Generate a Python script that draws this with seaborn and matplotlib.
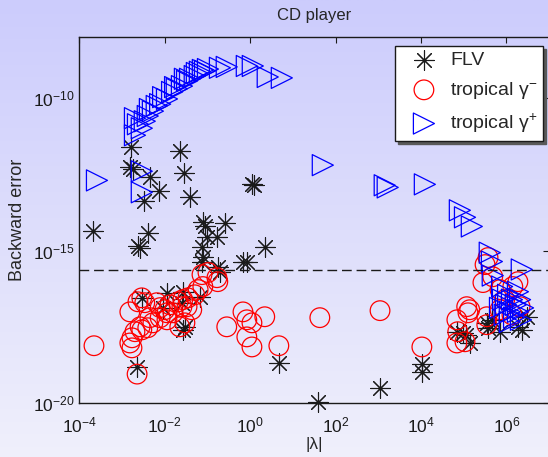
import numpy as np
import pandas as pd
import seaborn as sns
import matplotlib.pyplot as plt
from matplotlib.ticker import NullLocator

# (log10 |lambda|, log10 backward error)
flv_pts = [
    (-2.79, -11.61), (-1.65, -11.74), (-2.82, -12.27), (-2.75, -12.34),
    (-2.35, -12.60), (-1.55, -12.47), (0.04, -12.83), (0.09, -12.86),
    (-2.14, -13.06), (-2.49, -13.36), (-1.41, -13.26), (-3.68, -14.37),
    (-2.40, -14.44), (-2.63, -14.84), (-2.58, -14.93), (-1.11, -14.05),
    (-1.06, -14.21), (-0.59, -14.11), (-1.01, -14.54), (-0.78, -14.57),
    (-1.13, -14.90), (-1.11, -15.20), (0.34, -14.90), (-0.17, -15.39),
    (-0.08, -15.36), (-0.76, -15.53), (-0.71, -15.69), (-2.54, -16.55),
    (-1.95, -16.38), (-1.58, -16.35), (-2.04, -16.87), (-1.60, -16.71),
    (-1.53, -17.50), (-1.58, -17.60), (-1.18, -16.51), (-1.13, -15.39),
    (-2.65, -18.82), (0.67, -18.68), (1.59, -19.97), (3.04, -19.51),
    (4.02, -18.72), (4.02, -18.98), (4.84, -17.66), (4.98, -17.70),
    (5.14, -18.03), (5.05, -17.76), (5.54, -17.37), (5.57, -17.53),
    (5.66, -17.27), (5.85, -17.66), (6.27, -17.50), (6.36, -17.60),
    (6.48, -17.17),
]

trop_minus_pts = [
    (-3.66, -18.12), (-2.65, -19.05), (-2.77, -18.19), (-2.82, -18.03),
    (-2.77, -17.86), (-2.70, -17.66), (-2.58, -17.50), (-2.54, -17.60),
    (-2.40, -17.53), (-2.82, -17.01), (-2.63, -16.68), (-2.54, -16.55),
    (-2.47, -16.71), (-2.35, -17.20), (-2.28, -17.37), (-2.19, -16.71),
    (-2.11, -16.87), (-2.11, -17.20), (-2.00, -16.94), (-1.95, -17.04),
    (-1.95, -17.27), (-1.88, -16.78), (-1.81, -17.04), (-1.69, -16.68),
    (-1.65, -17.50), (-1.60, -16.84), (-1.58, -16.61), (-1.53, -17.37),
    (-1.48, -16.84), (-1.46, -16.55), (-1.37, -16.94), (-1.30, -16.45),
    (-1.22, -16.28), (-1.11, -16.18), (-1.13, -15.79), (-0.99, -15.72),
    (-0.78, -15.89), (-0.76, -16.02), (-0.55, -17.50), (-0.17, -17.01),
    (-0.08, -17.27), (0.04, -17.37), (0.34, -17.17), (-0.08, -17.83),
    (0.04, -18.16), (0.67, -18.12), (1.63, -17.20), (3.04, -16.97),
    (4.02, -18.16), (4.84, -17.27), (5.07, -16.84), (5.10, -17.04),
    (4.86, -17.66), (4.84, -18.03), (5.03, -17.99), (5.14, -16.94),
    (5.54, -17.17), (5.54, -17.43), (5.57, -15.23), (5.45, -16.05),
    (5.68, -15.86), (5.85, -16.28), (6.15, -16.18), (6.27, -16.02),
    (6.32, -16.84), (5.96, -16.61), (6.13, -17.11), (5.85, -16.94),
    (5.50, -15.46),
]

trop_plus_pts = [
    (-2.70, -10.66), (-2.70, -11.22), (-2.54, -10.99), (-2.47, -10.76),
    (-2.40, -10.59), (-2.28, -10.43), (-2.11, -10.20), (-1.95, -10.03),
    (-1.83, -9.80), (-1.72, -9.70), (-1.60, -9.61), (-1.48, -9.44),
    (-1.41, -9.37), (-1.30, -9.28), (-1.18, -9.14), (-1.06, -9.11),
    (-0.99, -9.05), (-0.71, -9.01), (-0.55, -8.98), (-0.08, -8.95),
    (0.06, -8.95), (0.41, -9.31), (0.74, -9.34), (-2.63, -10.86),
    (-2.35, -10.36), (-2.19, -10.26), (-2.04, -9.97), (-1.76, -9.64),
    (-1.53, -9.37), (-1.25, -9.18), (-1.11, -9.08), (-3.59, -12.70),
    (-2.54, -12.40), (-2.54, -13.09), (1.70, -12.20), (3.15, -12.86),
    (3.22, -12.93), (4.09, -12.83), (4.91, -13.68), (5.03, -13.91),
    (5.19, -14.21), (5.61, -15.07), (5.66, -15.36), (5.68, -15.82),
    (6.36, -15.62), (5.90, -16.18), (5.92, -16.61), (5.99, -16.78),
    (6.04, -16.45), (6.08, -17.01), (6.13, -16.61), (6.18, -17.20),
    (6.22, -16.78), (6.27, -16.35), (6.27, -17.01), (6.32, -16.61),
    (6.34, -17.27), (6.08, -17.34), (5.96, -17.11), (5.85, -16.88),
    (6.39, -16.88),
]

series_labels = ["FLV", "tropical γ$^{-}$", "tropical γ$^{+}$"]
x_ticks = [1e-4, 1e-2, 1e0, 1e2, 1e4, 1e6]
y_ticks = [1e-20, 1e-15, 1e-10]
x_range = (1e-4, 1e7)
y_range = (1e-20, 1e-8)
eps_level = np.finfo(float).eps


def to_frame(pts):
    arr = 10.0 ** np.array(pts)
    return pd.DataFrame({"lam": arr[:, 0], "err": arr[:, 1]})


def main():
    sns.set_theme(style="white")
    plt.rcParams["font.family"] = ["Liberation Sans", "DejaVu Sans"]
    plt.rcParams["mathtext.default"] = "regular"
    plt.rcParams["font.size"] = 12

    fig = plt.figure(figsize=(5.48, 4.57), dpi=100)

    # lavender gradient behind everything
    bg = fig.add_axes([0, 0, 1, 1], zorder=-10)
    top = np.array([0.80, 0.80, 0.99])
    bottom = np.array([0.94, 0.94, 0.985])
    t = np.linspace(0, 1, 256)[:, None]
    grad = (top * (1 - t) + bottom * t)[:, None, :]
    bg.imshow(grad, aspect="auto", extent=[0, 1, 0, 1])
    bg.axis("off")

    ax = fig.add_axes([0.145, 0.118, 0.857, 0.801])
    ax.set_facecolor("none")

    sns.scatterplot(data=to_frame(flv_pts), x="lam", y="err", ax=ax,
                    marker=(8, 2, 0), s=200, color="k", linewidth=0.8,
                    label=series_labels[0], clip_on=False)
    sns.scatterplot(data=to_frame(trop_minus_pts), x="lam", y="err", ax=ax,
                    marker="o", s=200, color="red", facecolors="none",
                    edgecolor="red", linewidth=0.9,
                    label=series_labels[1], clip_on=False)
    sns.scatterplot(data=to_frame(trop_plus_pts), x="lam", y="err", ax=ax,
                    marker=">", s=230, color="blue", facecolors="none",
                    edgecolor="blue", linewidth=0.9,
                    label=series_labels[2], clip_on=False)

    ax.axhline(eps_level, color="k", ls="--", lw=1.0, dashes=(7, 3.5))

    ax.set_xscale("log")
    ax.set_yscale("log")
    ax.set_xlim(*x_range)
    ax.set_ylim(*y_range)
    ax.set_xticks(x_ticks)
    ax.set_yticks(y_ticks)
    ax.xaxis.set_minor_locator(NullLocator())
    ax.yaxis.set_minor_locator(NullLocator())
    ax.tick_params(direction="in", length=4, width=0.8, top=True, right=True,
                   labelsize=12.5, colors="k")
    ax.tick_params(axis="x", pad=9)
    for sp in ax.spines.values():
        sp.set_color("k")
        sp.set_linewidth(1.0)

    ax.set_title("CD player", fontsize=12, pad=12)
    ax.set_xlabel("|λ|", fontsize=12.5, labelpad=1)
    ax.set_ylabel("Backward error", fontsize=13, labelpad=5)

    leg = ax.legend(loc="upper right", bbox_to_anchor=(0.988, 0.976),
                    borderaxespad=0, fancybox=False, edgecolor="k",
                    framealpha=1, fontsize=14, handlelength=2.4,
                    handletextpad=0.15, borderpad=0.3, labelspacing=0.55,
                    shadow={"color": "0.35", "alpha": 1})
    leg.get_frame().set_linewidth(1.0)

    plt.savefig("out.png", dpi=100)


if __name__ == "__main__":
    main()
